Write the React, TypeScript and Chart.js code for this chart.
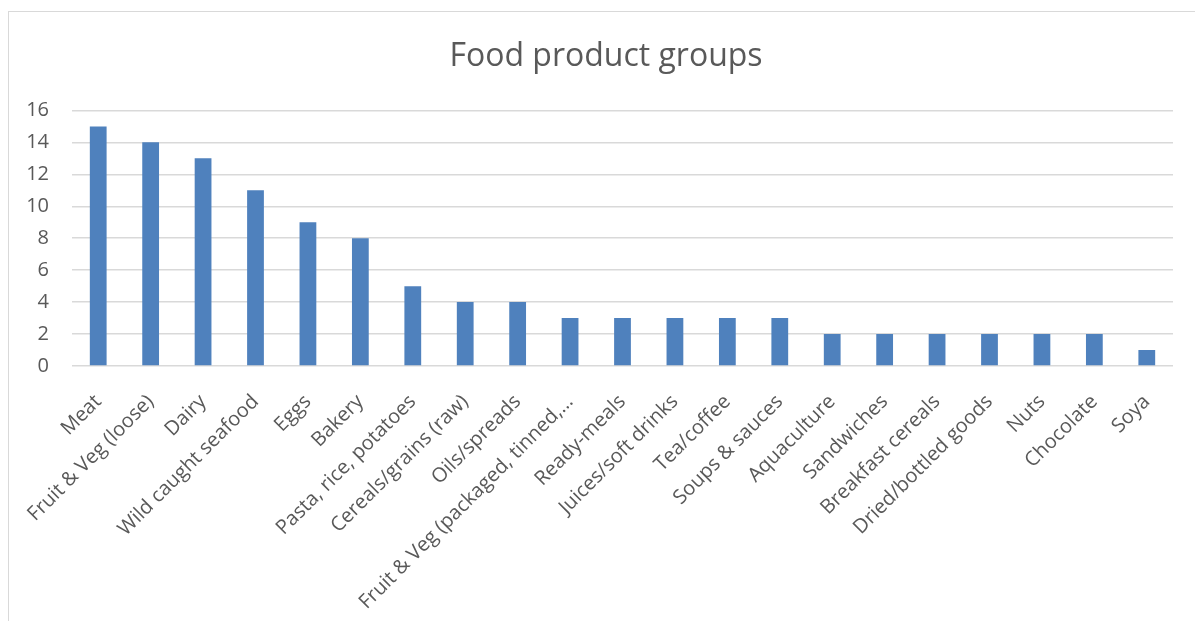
import React, { useEffect, useRef } from "react";
import { Chart, registerables } from "chart.js";

Chart.register(...registerables);

const categories = [
  "Meat",
  "Fruit & Veg (loose)",
  "Dairy",
  "Wild caught seafood",
  "Eggs",
  "Bakery",
  "Pasta, rice, potatoes",
  "Cereals/grains (raw)",
  "Oils/spreads",
  "Fruit & Veg (packaged, tinned,…",
  "Ready-meals",
  "Juices/soft drinks",
  "Tea/coffee",
  "Soups & sauces",
  "Aquaculture",
  "Sandwiches",
  "Breakfast cereals",
  "Dried/bottled goods",
  "Nuts",
  "Chocolate",
  "Soya",
];

const counts = [15, 14, 13, 11, 9, 8, 5, 4, 4, 3, 3, 3, 3, 3, 2, 2, 2, 2, 2, 2, 1];

const yTicks = [0, 2, 4, 6, 8, 10, 12, 14, 16];

const FONT = "'Open Sans', 'DejaVu Sans', sans-serif";

export default function App() {
  const ref = useRef<HTMLCanvasElement | null>(null);

  useEffect(() => {
    if (!ref.current) return;
    const chart = new Chart(ref.current, {
      type: "bar",
      data: {
        labels: categories,
        datasets: [
          {
            label: "Count",
            data: counts,
            backgroundColor: "#4F81BD",
            borderWidth: 0,
            barPercentage: 0.32,
            categoryPercentage: 1,
          },
        ],
      },
      options: {
        responsive: false,
        animation: false,
        layout: { padding: { left: 0, right: 0, top: 0, bottom: 5 } },
        plugins: {
          legend: { display: false },
          tooltip: { enabled: false },
          title: {
            display: true,
            text: "Food product groups",
            color: "#595959",
            font: { family: FONT, size: 32, weight: "normal" },
            padding: { top: 26, bottom: 34 },
          },
        },
        scales: {
          x: {
            grid: { display: false, drawTicks: false },
            border: { display: false },
            ticks: {
              autoSkip: false,
              maxRotation: 45,
              minRotation: 45,
              padding: 24,
              color: "#595959",
              font: { family: FONT, size: 20 },
            },
            afterFit: (scale: any) => {
              scale.height = 250;
            },
          },
          y: {
            min: 0,
            max: 16,
            afterBuildTicks: (scale: any) => {
              scale.ticks = yTicks.map((v) => ({ value: v }));
            },
            grid: { color: "#D9D9D9", lineWidth: 1.5, drawTicks: false },
            border: { display: false },
            ticks: {
              padding: 23,
              color: "#595959",
              font: { family: FONT, size: 20 },
            },
            afterFit: (scale: any) => {
              scale.width = 63;
            },
          },
          yRight: {
            type: "linear",
            position: "right",
            min: 0,
            max: 16,
            grid: { display: false, drawTicks: false },
            border: { display: false },
            ticks: { display: false },
            afterFit: (scale: any) => {
              scale.width = 30;
            },
          },
        },
      },
    });
    return () => chart.destroy();
  }, []);

  return (
    <div
      style={{
        position: "fixed",
        left: 0,
        top: 0,
        width: 1195,
        height: 621,
        overflow: "hidden",
        background: "#fff",
      }}
    >
      <div
        style={{
          position: "absolute",
          left: 8,
          top: 11,
          width: 1194,
          height: 640,
          border: "1px solid #D9D9D9",
          background: "#fff",
        }}
      >
        <canvas ref={ref} width={1194} height={609} style={{ display: "block" }} />
      </div>
    </div>
  );
}
